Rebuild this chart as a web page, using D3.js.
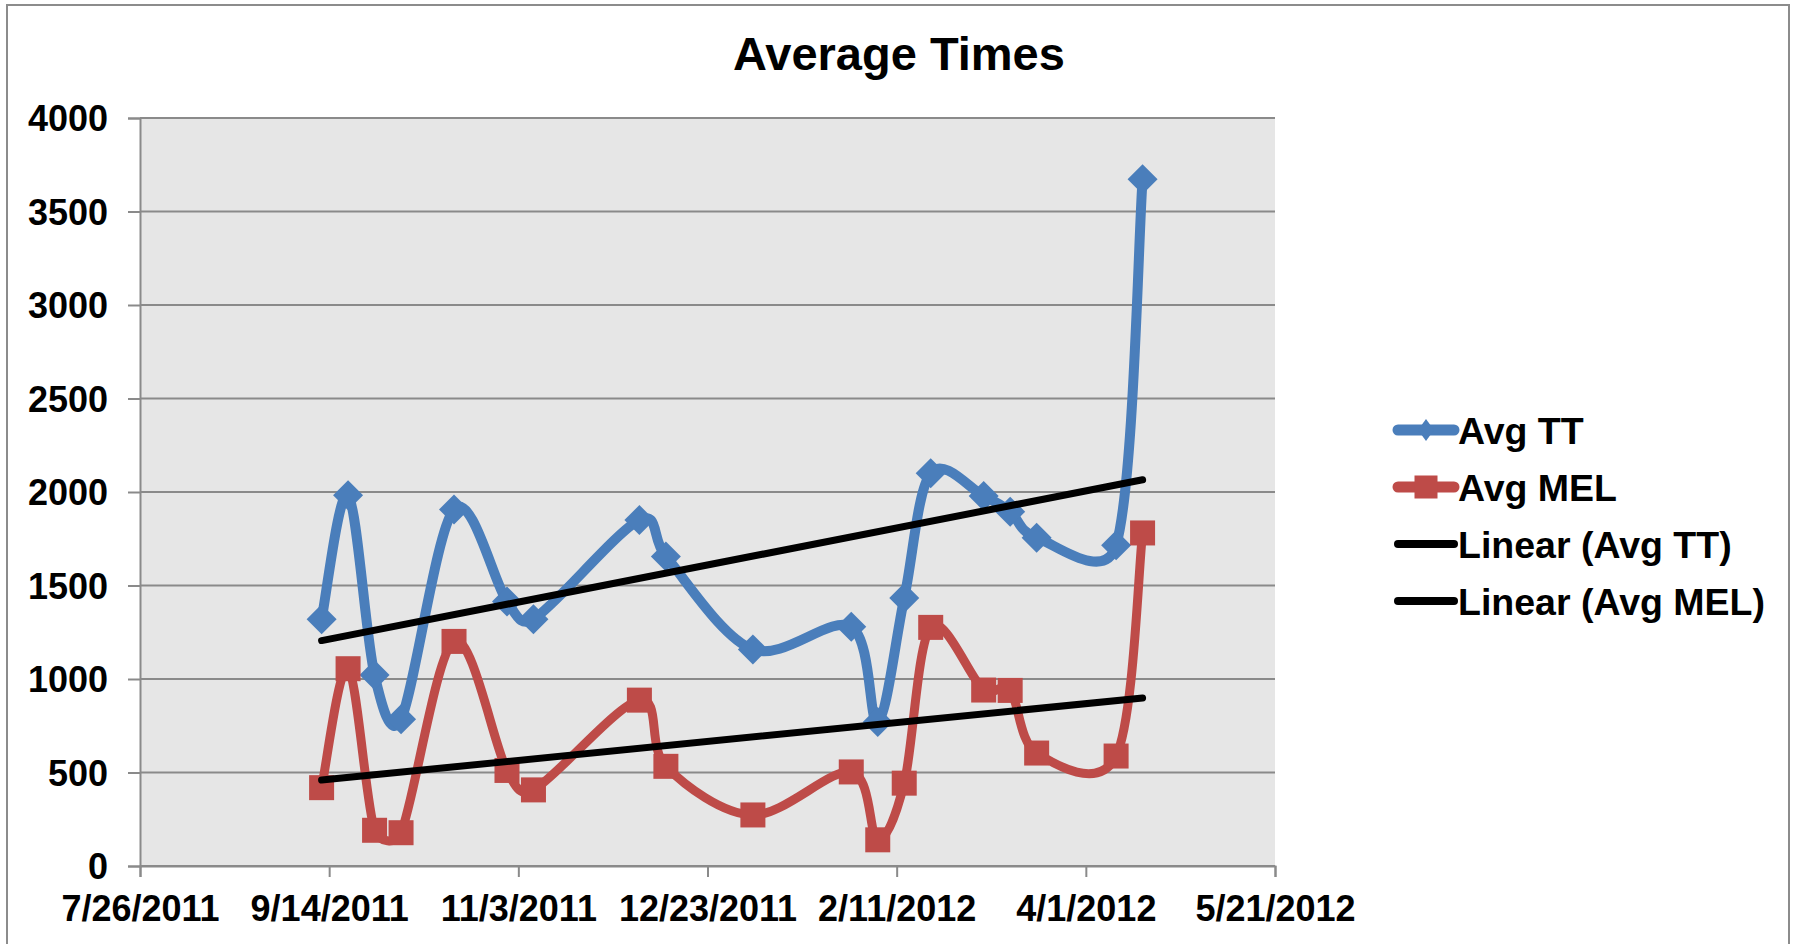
<!DOCTYPE html>
<html>
<head>
<meta charset="utf-8">
<script src="https://cdn.jsdelivr.net/npm/d3@7"></script>
<style>
  body { margin: 0; background: #fff; }
  text { font-family: "Liberation Sans", Arial, sans-serif; font-weight: bold; fill: #000; }
</style>
</head>
<body>
<div id="chart"></div>
<script>
// Average Times - two weekly series with linear trendlines

// data
var dates = ["9/12/2011", "9/19/2011", "9/26/2011", "10/3/2011", "10/17/2011", "10/31/2011",
  "11/7/2011", "12/5/2011", "12/12/2011", "1/4/2012", "1/30/2012", "2/6/2012", "2/13/2012",
  "2/20/2012", "3/5/2012", "3/12/2012", "3/19/2012", "4/9/2012", "4/16/2012"];
var avgTT = [1320, 1982, 1021, 785, 1907, 1415, 1320, 1850, 1655, 1158, 1279, 770, 1433,
  2100, 1978, 1895, 1756, 1715, 3672];
var avgMEL = [419, 1055, 191, 178, 1201, 511, 407, 887, 533, 273, 503, 140, 443,
  1276, 941, 939, 604, 588, 1781];
var xTickLabels = ["7/26/2011", "9/14/2011", "11/3/2011", "12/23/2011", "2/11/2012", "4/1/2012", "5/21/2012"];
var yTicks = [0, 500, 1000, 1500, 2000, 2500, 3000, 3500, 4000];
var seriesNames = ["Avg TT", "Avg MEL", "Linear (Avg TT)", "Linear (Avg MEL)"];

var svgWidth = 1794;
var svgHeight = 944;
var margin = { top: 118, right: 519, bottom: 78, left: 140 };
var width = svgWidth - margin.left - margin.right;
var height = svgHeight - margin.top - margin.bottom;

var blue = "#4a7ebb";
var red = "#be4b48";

var parse = d3.utcParse("%m/%d/%Y");

var svg = d3.select("#chart")
  .append("svg")
  .attr("width", svgWidth)
  .attr("height", svgHeight);

// outer chart border
svg.append("rect")
  .attr("x", 7)
  .attr("y", 5)
  .attr("width", 1782)
  .attr("height", 960)
  .attr("fill", "none")
  .attr("stroke", "#8c8c8c")
  .attr("stroke-width", 2);

// title
svg.append("text")
  .attr("x", 899)
  .attr("y", 70)
  .attr("text-anchor", "middle")
  .attr("font-size", 47)
  .text("Average Times");

var g = svg.append("g")
  .attr("transform", `translate(${margin.left}, ${margin.top})`);

var xTickDates = xTickLabels.map(parse);
var x = d3.scaleUtc()
  .domain([xTickDates[0], xTickDates[xTickDates.length - 1]])
  .range([0, width]);

var y = d3.scaleLinear()
  .domain([0, 4000])
  .range([height, 0]);

// plot background
g.append("rect")
  .attr("width", width)
  .attr("height", height)
  .attr("fill", "#e6e6e6");

// gridlines
g.selectAll(".grid")
  .data(yTicks)
  .enter()
  .append("line")
  .attr("x1", 0)
  .attr("x2", width)
  .attr("y1", d => y(d))
  .attr("y2", d => y(d))
  .attr("stroke", "#8a8a8a")
  .attr("stroke-width", 2);

// y axis
var yAxis = g.append("g")
  .call(d3.axisLeft(y).tickValues(yTicks).tickSize(12).tickPadding(20).tickFormat(d3.format("d")));
yAxis.selectAll("text").attr("font-size", 36).attr("dy", "0.35em");

// x axis
var xAxis = g.append("g")
  .attr("transform", "translate(0," + height + ")")
  .call(d3.axisBottom(x).tickValues(xTickDates).tickSize(11).tickPadding(18)
    .tickFormat((d, i) => xTickLabels[i]));
xAxis.selectAll("text").attr("font-size", 36).attr("dy", "0.71em");

[yAxis, xAxis].forEach(function(ax) {
  ax.select(".domain").attr("stroke", "#8a8a8a").attr("stroke-width", 2);
  ax.selectAll(".tick line").attr("stroke", "#8a8a8a").attr("stroke-width", 2);
  ax.selectAll("text").attr("fill", "#000").attr("font-family", "Liberation Sans, Arial, sans-serif");
});

var ttData = dates.map((d, i) => ({ date: parse(d), value: avgTT[i] }));
var melData = dates.map((d, i) => ({ date: parse(d), value: avgMEL[i] }));

// Excel-like smoothed line: bezier with (next - prev)/6 handles,
// each handle kept within half of the segment it sits on
function smooth(data) {
  var p = data.map(d => [x(d.date), y(d.value)]);
  var n = p.length;
  var path = d3.path();
  path.moveTo(p[0][0], p[0][1]);
  function handle(i, dir) {
    var prev = p[Math.max(i - 1, 0)], next = p[Math.min(i + 1, n - 1)];
    var tx = (next[0] - prev[0]) / 6, ty = (next[1] - prev[1]) / 6;
    var other = p[i + dir];
    var seg = Math.hypot(other[0] - p[i][0], other[1] - p[i][1]);
    var len = Math.hypot(tx, ty);
    var k = len > seg / 2 ? (seg / 2) / len : 1;
    return [p[i][0] + dir * tx * k, p[i][1] + dir * ty * k];
  }
  for (var i = 0; i < n - 1; i++) {
    var c1 = handle(i, 1), c2 = handle(i + 1, -1);
    path.bezierCurveTo(c1[0], c1[1], c2[0], c2[1], p[i + 1][0], p[i + 1][1]);
  }
  return path.toString();
}

var diamond = "M0,-15L15,0L0,15L-15,0Z";

// Avg TT
g.append("path")
  .attr("d", smooth(ttData))
  .attr("fill", "none")
  .attr("stroke", blue)
  .attr("stroke-width", 10)
  .attr("stroke-linejoin", "round");

g.selectAll(".ttMark")
  .data(ttData)
  .enter()
  .append("path")
  .attr("d", diamond)
  .attr("transform", d => `translate(${x(d.date)},${y(d.value)})`)
  .attr("fill", blue);

// Avg MEL
g.append("path")
  .attr("d", smooth(melData))
  .attr("fill", "none")
  .attr("stroke", red)
  .attr("stroke-width", 9)
  .attr("stroke-linejoin", "round");

g.selectAll(".melMark")
  .data(melData)
  .enter()
  .append("rect")
  .attr("x", d => x(d.date) - 12.5)
  .attr("y", d => y(d.value) - 12.5)
  .attr("width", 25)
  .attr("height", 25)
  .attr("fill", red);

// linear trendlines (least squares on date)
function trend(data) {
  var xs = data.map(d => +d.date);
  var ys = data.map(d => d.value);
  var mx = d3.mean(xs), my = d3.mean(ys);
  var sxy = d3.sum(xs, (v, i) => (v - mx) * (ys[i] - my));
  var sxx = d3.sum(xs, v => (v - mx) * (v - mx));
  var slope = sxy / sxx;
  var first = data[0].date, last = data[data.length - 1].date;
  return [first, last].map(dt => ({ date: dt, value: my + slope * (+dt - mx) }));
}

var straight = d3.line()
  .x(d => x(d.date))
  .y(d => y(d.value));

[ttData, melData].forEach(function(data) {
  g.append("path")
    .datum(trend(data))
    .attr("d", straight)
    .attr("stroke", "#000")
    .attr("stroke-width", 7)
    .attr("stroke-linecap", "round");
});

// legend
var legend = svg.append("g").attr("transform", "translate(1398, 430)");
var item = legend.selectAll(".item")
  .data(seriesNames)
  .enter()
  .append("g")
  .attr("transform", (d, i) => `translate(0, ${i * 57})`);

item.append("line")
  .attr("x1", 0)
  .attr("x2", 56)
  .attr("stroke", (d, i) => i === 0 ? blue : i === 1 ? red : "#000")
  .attr("stroke-width", (d, i) => i < 2 ? 11 : 8)
  .attr("stroke-linecap", "round");

item.filter((d, i) => i === 0)
  .append("path")
  .attr("d", "M28,-11L36,0L28,11L20,0Z")
  .attr("fill", blue);

item.filter((d, i) => i === 1)
  .append("rect")
  .attr("x", 16.5)
  .attr("y", -11.5)
  .attr("width", 23)
  .attr("height", 23)
  .attr("fill", red);

item.append("text")
  .attr("x", 60)
  .attr("dy", "0.36em")
  .attr("font-size", 37.5)
  .text(d => d);
</script>
</body>
</html>
